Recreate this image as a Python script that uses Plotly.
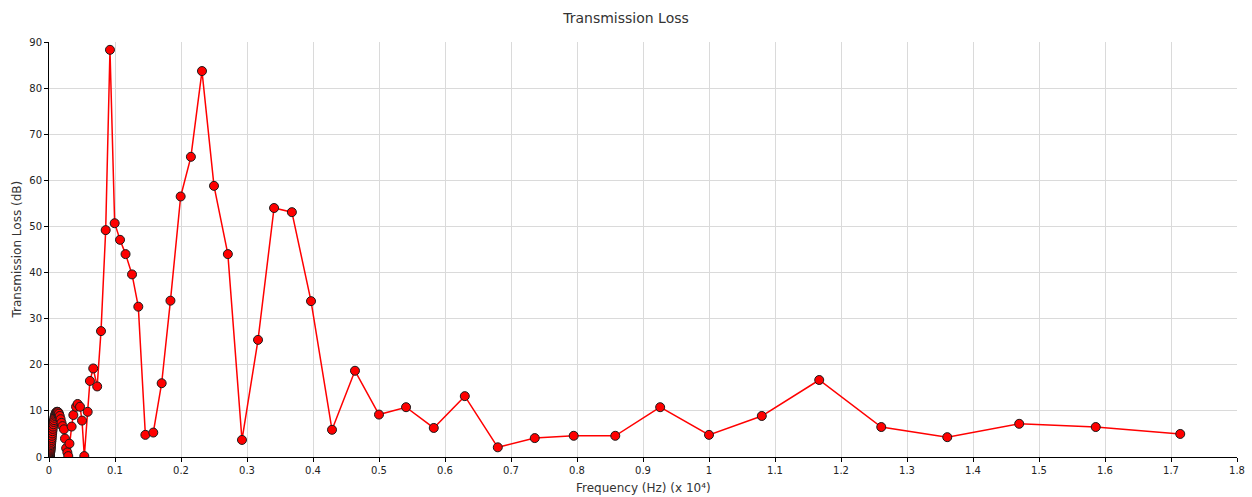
import plotly.graph_objects as go

# Frequency in units of 10^4 Hz (logarithmic sweep)
freq = [
    0.0003, 0.00032, 0.00035, 0.00038, 0.00041, 0.00044, 0.00047, 0.00051,
    0.00055, 0.0006, 0.00064, 0.00069, 0.00075, 0.00081, 0.00087, 0.00094,
    0.00102, 0.0011, 0.00119, 0.00128, 0.00139, 0.0015, 0.00162, 0.00175,
    0.00189, 0.00204, 0.0022, 0.00238, 0.00257, 0.00277, 0.003, 0.00323,
    0.00349, 0.00377, 0.00407, 0.0044, 0.00475, 0.00513, 0.00554, 0.00598,
    0.00646, 0.00698, 0.00754, 0.00814, 0.00879, 0.00949, 0.01025, 0.01107,
    0.01196, 0.01291, 0.01395, 0.01506, 0.01627, 0.01757, 0.01897, 0.02049,
    0.0227, 0.0242, 0.026, 0.0278, 0.0292, 0.031, 0.0343, 0.0369, 0.041,
    0.0434, 0.047, 0.05, 0.0535, 0.0586, 0.062, 0.067, 0.073, 0.0788,
    0.0859, 0.0924, 0.0995, 0.1076, 0.116, 0.1258, 0.1353, 0.146, 0.158,
    0.1707, 0.184, 0.1995, 0.215, 0.2318, 0.25, 0.271, 0.2924, 0.3167,
    0.341, 0.368, 0.397, 0.4288, 0.4636, 0.5, 0.541, 0.583, 0.63, 0.68,
    0.736, 0.795, 0.858, 0.926, 1.0, 1.08, 1.167, 1.261, 1.361, 1.47,
    1.586, 1.714,
]

# Transmission loss in dB
tl = [
    0.02, 0.03, 0.03, 0.04, 0.05, 0.06, 0.07, 0.08,
    0.1, 0.12, 0.14, 0.16, 0.19, 0.22, 0.26, 0.3,
    0.35, 0.41, 0.47, 0.55, 0.64, 0.74, 0.86, 1.0,
    1.15, 1.33, 1.53, 1.76, 2.0, 2.28, 2.6, 2.9,
    3.3, 3.7, 4.1, 4.6, 5.1, 5.6, 6.1, 6.6,
    7.1, 7.6, 8.0, 8.5, 8.9, 9.2, 9.5, 9.7,
    9.8, 9.8, 9.7, 9.4, 8.9, 8.2, 7.4, 6.7,
    6.0, 4.0, 1.9, 1.0, 0.2, 2.9, 6.6, 9.1, 10.9,
    11.5, 10.9, 7.9, 0.2, 9.8, 16.5, 19.2, 15.3, 27.3,
    49.2, 88.3, 50.7, 47.1, 44.0, 39.6, 32.6, 4.8, 5.3,
    16.0, 33.9, 56.5, 65.1, 83.7, 58.8, 44.0, 3.7, 25.4,
    54.0, 53.1, 33.8, 5.9, 18.7, 9.2, 10.8, 6.3, 13.2, 2.1,
    4.1, 4.6, 4.6, 10.8, 4.8, 8.9, 16.7, 6.5, 4.3, 7.2,
    6.5, 5.0,
]

x_ticks = [i / 10 for i in range(19)]
y_ticks = list(range(0, 91, 10))

fig = go.Figure(
    go.Scatter(
        x=freq,
        y=tl,
        mode="lines+markers",
        line=dict(color="#ff0000", width=1.5),
        marker=dict(color="#ff0000", size=9, line=dict(color="#1a1a1a", width=1)),
        showlegend=False,
    )
)

axis_common = dict(
    showline=True,
    linecolor="#000000",
    linewidth=1,
    ticks="outside",
    ticklen=4,
    tickcolor="#000000",
    showgrid=True,
    gridcolor="#dadada",
    gridwidth=1,
    zeroline=False,
    automargin=False,
    tickfont=dict(family="DejaVu Sans", size=10, color="#222222"),
)

fig.update_layout(
    width=1252,
    height=497,
    margin=dict(l=49, r=15, t=42, b=40),
    paper_bgcolor="#ffffff",
    plot_bgcolor="#ffffff",
    font=dict(family="DejaVu Sans", color="#333333"),
    title=dict(
        text="Transmission Loss",
        x=0.5,
        xanchor="center",
        y=0.963,
        yanchor="middle",
        font=dict(family="DejaVu Sans", size=14, color="#333333"),
    ),
    xaxis=dict(
        range=[0, 1.8],
        tickvals=x_ticks,
        ticktext=[("%g" % v) for v in x_ticks],
        **axis_common,
    ),
    yaxis=dict(
        range=[0, 90],
        tickvals=y_ticks,
        **axis_common,
    ),
    annotations=[
        dict(
            text="Frequency (Hz) (x 10⁴)",
            xref="paper", yref="paper",
            x=0.5, y=-0.0, yshift=-31,
            xanchor="center", yanchor="middle",
            showarrow=False,
            font=dict(family="DejaVu Sans", size=12, color="#333333"),
        ),
        dict(
            text="Transmission Loss (dB)",
            xref="paper", yref="paper",
            x=0.0, xshift=-33, y=0.5,
            xanchor="center", yanchor="middle",
            textangle=-90,
            showarrow=False,
            font=dict(family="DejaVu Sans", size=12, color="#333333"),
        ),
    ],
)

fig.write_html("out.html")
